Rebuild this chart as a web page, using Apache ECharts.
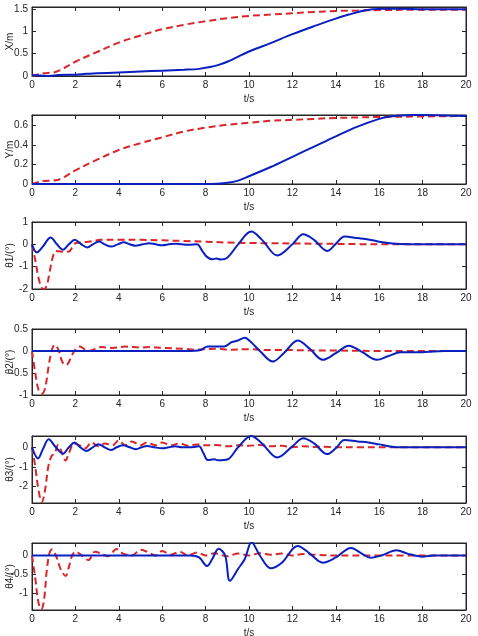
<!DOCTYPE html>
<html>
<head>
<meta charset="utf-8">
<script src="https://cdn.jsdelivr.net/npm/echarts@6/dist/echarts.min.js"></script>
<style>
html,body{margin:0;padding:0;background:#fff;}
#chart{width:478px;height:636px;}
</style>
</head>
<body>
<div id="chart"></div>
<script>
// ---------- data ----------
const xTicks = [0,2,4,6,8,10,12,14,16,18,20];

// Panel 1: X/m
const xBlueT = [0,0.4,0.8,1.2,1.6,2,2.5,3,4,5,6,7,7.7,8.2,8.6,9,10,11,12,13,14,14.6,15.2,15.7,16.2,17,18,19,20];
const xBlueV = [0.02,0.01,0.0,0.02,0.03,0.03,0.05,0.06,0.08,0.1,0.12,0.14,0.16,0.2,0.25,0.32,0.55,0.74,0.94,1.12,1.29,1.38,1.46,1.5,1.51,1.51,1.5,1.5,1.5];
const xRedT = [0,0.5,1,1.3,2,3,4,5,6,7,8,9,10,11,12,13,14,15,16,18,20];
const xRedV = [0,0.06,0.08,0.13,0.32,0.54,0.75,0.91,1.05,1.15,1.23,1.3,1.35,1.38,1.41,1.44,1.46,1.47,1.48,1.49,1.49];

// Panel 2: Y/m
const yBlueT = [0,2,4,6,8,8.5,9,9.5,10,11,12,13,14,15,16,16.5,17,17.5,18,19,20];
const yBlueV = [0,0,0,0,0,0.003,0.012,0.035,0.08,0.175,0.28,0.385,0.49,0.59,0.67,0.695,0.705,0.71,0.71,0.705,0.7];
const yRedT = [0,0.5,1,1.3,2,3,4,5,6,7,8,9,10,11,12,13,14,15,16,18,20];
const yRedV = [0,0.03,0.035,0.05,0.14,0.25,0.35,0.42,0.48,0.54,0.58,0.61,0.63,0.65,0.66,0.67,0.68,0.685,0.69,0.695,0.7];

// Panel 3: theta1
const t1BlueT = [0,0.22,0.5,0.86,1.15,1.43,1.7,1.97,2.25,2.55,2.8,3.09,3.35,3.65,3.95,4.23,4.5,4.75,5.1,5.4,5.7,6.0,6.3,6.6,6.9,7.2,7.6,7.85,8.05,8.3,8.5,8.7,9.0,9.5,10.1,10.6,11.3,12.0,12.5,13.0,13.6,14.0,14.4,15.0,15.5,16.0,16.5,17,18,20];
const t1BlueV = [0,-0.36,-0.1,0.31,0.0,-0.24,0.0,0.21,0.02,-0.14,0.0,0.13,0.0,-0.1,0.0,0.09,0.0,-0.06,0.0,0.05,0.0,-0.04,0.0,0.03,0.0,-0.02,0.0,-0.3,-0.55,-0.67,-0.63,-0.68,-0.6,0.0,0.57,0.2,-0.5,0.0,0.45,0.2,-0.3,0.02,0.35,0.28,0.22,0.12,0.05,0.01,0,0];
const t1RedT = [0,0.15,0.3,0.45,0.55,0.68,0.8,0.95,1.1,1.4,1.7,1.85,2.0,2.5,3.2,4,5,6,7,8,9,10,11,12,13,14,15,16,20];
const t1RedV = [0,-0.7,-1.5,-1.95,-2.0,-1.85,-1.3,-0.6,-0.3,-0.33,-0.32,-0.15,0.05,0.1,0.2,0.2,0.2,0.18,0.15,0.12,0.08,0.06,0.05,0.04,0.03,0.02,0.01,0,0];

// Panel 4: theta2
const t2BlueT = [0,2,4,6,7,7.5,7.8,8.1,8.5,8.85,9.2,9.5,9.8,10.1,10.5,11.1,11.6,12.25,12.8,13.4,14.0,14.6,15.2,15.9,16.4,17.0,18.0,18.5,19,20];
const t2BlueV = [0,0,0,0,0,0.005,0.03,0.1,0.1,0.1,0.2,0.24,0.3,0.2,0.0,-0.24,-0.05,0.24,0.05,-0.2,-0.05,0.12,-0.02,-0.2,-0.12,-0.03,-0.03,-0.01,0,0];
const t2RedT = [0,0.15,0.3,0.45,0.6,0.75,0.9,1.05,1.2,1.4,1.58,1.75,1.95,2.2,2.6,3.2,3.7,4.3,5,5.5,6,7,7.5,8,8.6,9,10,11,12,13,14,16,20];
const t2RedV = [0,-0.5,-0.88,-0.97,-0.85,-0.4,0,0.14,0.05,-0.25,-0.32,-0.2,0,0.1,0.0,0.09,0.07,0.1,0.08,0.09,0.07,0.05,0.03,0.04,0.05,0.03,0.04,0.02,0.02,0.01,0.01,0,0];

// Panel 5: theta3
const t3BlueT = [0,0.28,0.5,0.77,1.1,1.43,1.7,1.97,2.2,2.5,2.8,3.06,3.35,3.64,3.9,4.2,4.5,4.8,5.05,5.3,5.65,6.0,6.3,6.6,6.9,7.2,7.5,7.7,7.9,8.1,8.4,8.6,9.0,9.5,10.1,10.6,11.3,12.0,12.5,13.0,13.6,14.0,14.4,15.0,15.5,16.0,16.6,17,18,20];
const t3BlueV = [0,-0.57,-0.1,0.41,0.0,-0.33,0.0,0.24,0.02,-0.19,0.0,0.16,0.0,-0.14,0.0,0.1,0.0,-0.1,0.0,0.07,0.0,-0.05,0.0,0.05,0.0,0.0,0.02,0.05,-0.3,-0.65,-0.62,-0.67,-0.63,0.0,0.58,0.2,-0.52,0.05,0.47,0.2,-0.35,-0.05,0.37,0.3,0.25,0.15,0.03,0.0,0,0];
const t3RedT = [0,0.15,0.3,0.45,0.6,0.75,0.9,1.05,1.2,1.35,1.55,1.7,1.95,2.2,2.45,2.75,3.05,3.35,3.7,4.0,4.3,4.6,5.0,5.3,5.7,6.0,6.4,6.8,7.2,7.6,8,8.5,9,9.5,10,10.5,11,11.5,12,12.5,13,13.5,14,15,16,20];
const t3RedV = [0,-1.0,-2.2,-2.82,-2.2,-1.0,-0.45,-0.3,0.12,-0.2,-0.68,-0.3,0.2,0.1,-0.05,0.25,0.05,0.2,0.1,0.35,0.1,0.3,0.1,0.25,0.1,0.25,0.1,0.2,0.08,0.15,0.1,0.12,0.05,0.1,0.08,0.12,0.05,0.08,0.0,0.05,0.02,0.03,0.0,0,0,0];

// Panel 6: theta4
const t4BlueT = [0,2,4,6,7,7.3,7.7,8.07,8.3,8.6,8.9,9.12,9.5,9.8,10.12,10.5,11.0,11.5,12.25,12.8,13.4,14.0,14.7,15.2,15.6,16.1,16.8,17.3,18.0,18.5,19,20];
const t4BlueV = [0,0,0,0,0,0.0,-0.05,-0.28,-0.1,0.18,0.0,-0.67,-0.35,-0.1,0.35,0.0,-0.34,-0.2,0.25,0.05,-0.19,-0.05,0.2,0.05,-0.06,0.0,0.14,0.05,-0.03,0.0,0,0];
const t4RedT = [0,0.15,0.3,0.43,0.55,0.68,0.8,0.92,1.1,1.35,1.55,1.7,1.85,2.0,2.3,2.6,2.9,3.2,3.5,3.9,4.2,4.6,5.0,5.3,5.7,6.0,6.4,6.8,7.2,7.6,8.0,8.4,9.0,9.5,10,10.5,11,11.5,12,12.5,13,14,20];
const t4RedV = [0,-0.6,-1.25,-1.42,-1.2,-0.4,0.05,0.16,0.0,-0.4,-0.54,-0.3,0.0,0.1,0.0,-0.12,0.1,0.05,-0.02,0.17,0.05,0.0,0.15,0.1,0.0,0.12,0.02,0.1,0.0,0.08,0.0,0.06,-0.02,0.05,0.0,0.06,0.02,0.05,0.0,0.04,0.02,0,0];

// axis label names and ticks
const yNames = ['X/m','Y/m','θ1/(°)','θ2/(°)','θ3/(°)','θ4/(°)'];
const yTickVals = [[0,0.5,1,1.5],[0,0.2,0.4,0.6],[-2,-1,0,1],[-1,-0.5,0,0.5],[-2,-1,0],[-1,-0.5,0]];
const yMins = [0,0,-2,-1,-2.86,-1.44];
const yMaxs = [1.55,0.71,1,0.5,0.58,0.33];

// ---------- layout ----------
const panelTops = [7,115,222,329,436,543];
const panelHeights = [69,69,67,66,67,67];

const blue = '#0a1fbf';
const red = '#d9262a';
const ink = '#262626';
const font = 'Liberation Sans, Arial, sans-serif';

function pairs(t, v){ return t.map((x,i)=>[x, v[i]]); }
const blues = [pairs(xBlueT,xBlueV),pairs(yBlueT,yBlueV),pairs(t1BlueT,t1BlueV),pairs(t2BlueT,t2BlueV),pairs(t3BlueT,t3BlueV),pairs(t4BlueT,t4BlueV)];
const reds = [pairs(xRedT,xRedV),pairs(yRedT,yRedV),pairs(t1RedT,t1RedV),pairs(t2RedT,t2RedV),pairs(t3RedT,t3RedV),pairs(t4RedT,t4RedV)];

const grid=[], xAxis=[], yAxis=[], series=[];
for (let i=0;i<6;i++){
  grid.push({left:32,right:12,top:panelTops[i],height:panelHeights[i],containLabel:false,outerBoundsMode:'none',show:true,borderColor:ink,borderWidth:1,backgroundColor:'#fff'});
  // bottom x
  xAxis.push({type:'value',gridIndex:i,min:0,max:20,interval:2,position:'bottom',
    name:'t/s',nameLocation:'middle',nameGap:18,nameMoveOverlap:false,nameTextStyle:{color:ink,fontSize:10,fontFamily:font},
    axisLine:{show:true,onZero:false,lineStyle:{color:ink,width:1}},
    axisTick:{show:true,inside:true,length:4,lineStyle:{color:ink}},
    axisLabel:{color:ink,fontSize:10,fontFamily:font,margin:4,formatter:v=>String(v)},
    splitLine:{show:false}});
  // top x (ticks only)
  xAxis.push({type:'value',gridIndex:i,min:0,max:20,interval:2,position:'top',
    axisLine:{show:true,onZero:false,lineStyle:{color:ink,width:1}},
    axisTick:{show:true,inside:true,length:4,lineStyle:{color:ink}},
    axisLabel:{show:false},splitLine:{show:false}});
  yAxis.push({type:'value',gridIndex:i,min:yMins[i],max:yMaxs[i],position:'left',
    name:yNames[i],nameLocation:'middle',nameRotate:90,nameGap:17,nameMoveOverlap:false,
    nameTextStyle:{color:ink,fontSize:10,fontFamily:font},
    axisLine:{show:true,onZero:false,lineStyle:{color:ink,width:1}},
    axisTick:{show:true,inside:true,length:4,lineStyle:{color:ink},customValues:yTickVals[i]},
    axisLabel:{color:ink,fontSize:10,fontFamily:font,margin:4,customValues:yTickVals[i],formatter:v=>String(v)},
    splitLine:{show:false}});
  yAxis.push({type:'value',gridIndex:i,min:yMins[i],max:yMaxs[i],position:'right',
    axisLine:{show:true,onZero:false,lineStyle:{color:ink,width:1}},
    axisTick:{show:true,inside:true,length:4,lineStyle:{color:ink},customValues:yTickVals[i]},
    axisLabel:{show:false,customValues:yTickVals[i]},splitLine:{show:false}});
  series.push({type:'line',xAxisIndex:2*i,yAxisIndex:2*i,data:reds[i],smooth:0.35,showSymbol:false,
    lineStyle:{color:red,width:2,type:[7,4]},z:3,silent:true,animation:false});
  series.push({type:'line',xAxisIndex:2*i,yAxisIndex:2*i,data:blues[i],smooth:0.35,showSymbol:false,
    lineStyle:{color:blue,width:2},z:4,silent:true,animation:false});
}

const chart = echarts.init(document.getElementById('chart'),null,{renderer:'canvas'});
chart.setOption({animation:false,backgroundColor:'#fff',grid,xAxis,yAxis,series});
</script>
</body>
</html>
